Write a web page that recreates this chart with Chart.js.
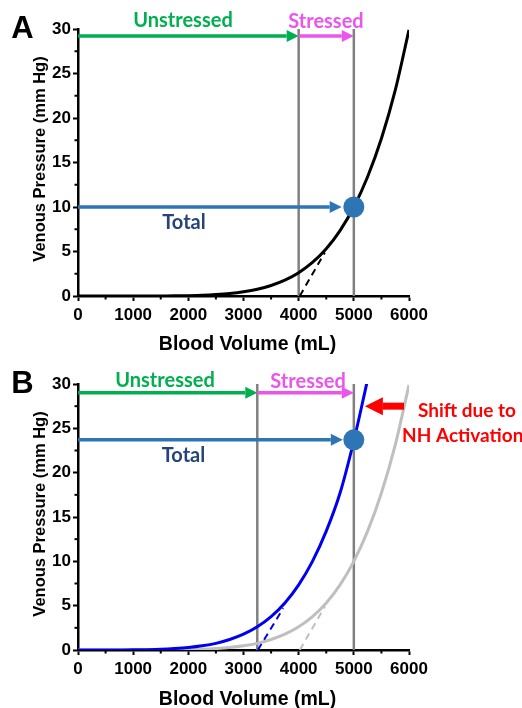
<!DOCTYPE html>
<html><head><meta charset="utf-8">
<script src="https://cdn.jsdelivr.net/npm/chart.js@4.4.1/dist/chart.umd.min.js"></script>
<style>
html,body{margin:0;padding:0;background:#fff;}
.panel{position:absolute;left:0;width:522px;}
</style></head><body>
<div class="panel" style="top:0;height:354px"><canvas id="chartA"></canvas></div>
<div class="panel" style="top:355px;height:353px"><canvas id="chartB"></canvas></div>
<script>
// ---------- data ----------
const volumes = [0,250,500,750,1000,1250,1500,1750,2000,2250,2500,2750,3000,3250,3500,3750,4000,4250,4500,4750,5000,5250,5500,5750,6000];
const baselinePressure = [0,0,0,0,0,0,0.01,0.02,0.04,0.08,0.16,0.28,0.47,0.75,1.18,1.78,2.62,3.77,5.31,7.35,10.0,13.4,17.7,23.1,29.9];
const nhVolumes = [0,250,500,750,1000,1250,1500,1750,2000,2250,2500,2750,3000,3250,3500,3750,4000,4250,4500,4750,5000,5250];
const nhPressure = [0,0,0,0.01,0.02,0.04,0.08,0.16,0.28,0.47,0.75,1.18,1.78,2.62,3.77,5.31,7.35,10.0,13.4,17.7,23.6,30.5];
const xTicks = [0,1000,2000,3000,4000,5000,6000];
const yTicks = [0,5,10,15,20,25,30];
// stressed-volume tangent (dashed) segments
const tangentAVolume = [4020,4475];
const tangentAPressure = [0,4.9];
const tangentNHVolume = [3260,3720];
const tangentNHPressure = [0,4.7];
// volume markers
const unstressedA = 4000, totalVolA = 5000, totalPressA = 10;
const unstressedB = 3250, totalVolB = 5000, totalPressB = 23.7;
const arrowPressA = 29.2, arrowPressB = 29.0;
const totalArrowEndA = 4780, totalArrowEndB = 4800;
const shiftArrowVolume = [5910,5200], shiftArrowPressure = 27.5;

const pts = (xs, ys) => xs.map((x, i) => ({x, y: ys[i]}));

const GREEN = '#00B050', MAGENTA = '#EC55EC', BLUEARROW = '#2E75B6', NAVY = '#264478', RED = '#FF0000', GREYLINE = '#808080';
const TICKFONT = {family: '"Liberation Sans", Arial, sans-serif', size: 17, weight: 'bold'};

function vline(x, order){
  return {data: pts([x, x], [0, 30]), borderColor: GREYLINE, borderWidth: 2.5, pointRadius: 0, order, clip: false};
}

function drawArrow(ctx, x1, y, x2, color, lw, hl, hw){
  const dir = Math.sign(x2 - x1);
  ctx.save();
  ctx.strokeStyle = color; ctx.fillStyle = color; ctx.lineWidth = lw; ctx.lineCap = 'butt';
  ctx.beginPath(); ctx.moveTo(x1, y); ctx.lineTo(x2 - dir * hl, y); ctx.stroke();
  ctx.beginPath(); ctx.moveTo(x2, y); ctx.lineTo(x2 - dir * hl, y - hw); ctx.lineTo(x2 - dir * hl, y + hw); ctx.closePath(); ctx.fill();
  ctx.restore();
}
function text(ctx, s, x, y, font, color, align='center', base='middle'){
  ctx.save(); ctx.font = font; ctx.fillStyle = color; ctx.textAlign = align; ctx.textBaseline = base; ctx.fillText(s, x, y); ctx.restore();
}

function annPlugin(p){
  return {
    id: 'ann',
    afterDatasetsDraw(chart){
      const ctx = chart.ctx, xs = chart.scales.x, ys = chart.scales.y;
      const X = v => xs.getPixelForValue(v), Y = v => ys.getPixelForValue(v);
      const lab = '700 20px Lato, "Open Sans", sans-serif';
      const labR = '700 19px Lato, "Open Sans", sans-serif';
      drawArrow(ctx, X(0), Y(p.arrowP), X(p.unstressed), GREEN, 3.5, 12, 6);
      drawArrow(ctx, X(p.unstressed), Y(p.arrowP), X(p.totalV), MAGENTA, 3.5, 12, 6);
      drawArrow(ctx, X(0), Y(p.totalP), X(p.totalEnd), BLUEARROW, 3.5, 12, 6);
      text(ctx, 'Unstressed', X(p.unLabel[0]), Y(p.unLabel[1]), lab, GREEN);
      text(ctx, 'Stressed', X(p.stLabel[0]), Y(p.stLabel[1]), lab, MAGENTA);
      text(ctx, 'Total', X(p.totLabel[0]), Y(p.totLabel[1]), lab, NAVY);
      if (p.shift){
        drawArrow(ctx, X(shiftArrowVolume[0]), Y(shiftArrowPressure), X(shiftArrowVolume[1]), RED, 7, 18, 9);
        text(ctx, 'Shift due to', X(7050), Y(27.0), labR, RED);
        text(ctx, 'NH Activation', X(6975), Y(24.2), labR, RED);
      }
    },
    afterDraw(chart){
      const ctx = chart.ctx, xs = chart.scales.x, ys = chart.scales.y;
      const a = chart.chartArea;
      ctx.save();
      ctx.strokeStyle = '#000'; ctx.lineWidth = 2;
      for (let v = 500; v < 6000; v += 1000){
        const x = xs.getPixelForValue(v);
        ctx.beginPath(); ctx.moveTo(x, a.bottom); ctx.lineTo(x, a.bottom + 3.5); ctx.stroke();
      }
      for (let v = 2.5; v < 30; v += 5){
        const y = ys.getPixelForValue(v);
        ctx.beginPath(); ctx.moveTo(a.left, y); ctx.lineTo(a.left - 3.5, y); ctx.stroke();
      }
      ctx.restore();
      const tf = 'bold 19.5px "Liberation Sans", Arial, sans-serif';
      text(ctx, 'Blood Volume (mL)', 247.5, 350, tf, '#000', 'center', 'alphabetic');
      ctx.save();
      ctx.translate(40, 159); ctx.rotate(-Math.PI / 2);
      text(ctx, 'Venous Pressure (mm Hg)', 0, 0, 'bold 16.5px "Liberation Sans", Arial, sans-serif', '#000');
      ctx.restore();
      text(ctx, p.letter, 22.5, 29.5, 'bold 31px "Liberation Sans", Arial, sans-serif', '#000');
    }
  };
}

function options(){
  return {
    responsive: true, maintainAspectRatio: false, animation: false, devicePixelRatio: 1,
    layout: {padding: {left: 0, right: 113, top: 29, bottom: 0}},
    plugins: {legend: {display: false}, tooltip: {enabled: false}},
    scales: {
      x: {type: 'linear', min: 0, max: 6000,
        afterBuildTicks: s => { s.ticks = xTicks.map(v => ({value: v})); },
        afterFit: s => { s.height = 58; },
        ticks: {font: TICKFONT, color: '#000', padding: 4, maxRotation: 0, autoSkip: false, callback: v => String(v)},
        grid: {drawOnChartArea: false, drawTicks: true, tickLength: 5, tickWidth: 2, color: '#000'},
        border: {display: true, width: 2.5, color: '#000'}},
      y: {type: 'linear', min: 0, max: 30,
        afterBuildTicks: s => { s.ticks = yTicks.map(v => ({value: v})); },
        afterFit: s => { s.width = 78; },
        ticks: {font: TICKFONT, color: '#000', padding: 2, callback: v => String(v)},
        grid: {drawOnChartArea: false, drawTicks: true, tickLength: 5, tickWidth: 2, color: '#000'},
        border: {display: true, width: 2.5, color: '#000'}}
    }
  };
}

new Chart(document.getElementById('chartA'), {
  type: 'line',
  data: {datasets: [
    {data: [{x: totalVolA, y: totalPressA}], pointRadius: 10.5, pointBackgroundColor: BLUEARROW, pointBorderWidth: 0, showLine: false, order: 0, clip: false},
    {data: pts(volumes, baselinePressure), borderColor: '#000', borderWidth: 3, pointRadius: 0, cubicInterpolationMode: 'monotone', order: 1},
    {data: pts(tangentAVolume, tangentAPressure), borderColor: '#000', borderWidth: 2, borderDash: [7, 5], pointRadius: 0, order: 2},
    vline(unstressedA, 5), vline(totalVolA, 5)
  ]},
  options: options(),
  plugins: [annPlugin({letter: 'A', arrowP: arrowPressA, unstressed: unstressedA, totalV: totalVolA, totalP: totalPressA, totalEnd: totalArrowEndA,
    unLabel: [1903, 30.9], stLabel: [4495, 30.8], totLabel: [1921, 8.26], shift: false})]
});

new Chart(document.getElementById('chartB'), {
  type: 'line',
  data: {datasets: [
    {data: [{x: totalVolB, y: totalPressB}], pointRadius: 10.5, pointBackgroundColor: BLUEARROW, pointBorderWidth: 0, showLine: false, order: 0, clip: false},
    {data: pts(nhVolumes, nhPressure), borderColor: '#0000F0', borderWidth: 3, pointRadius: 0, cubicInterpolationMode: 'monotone', order: 1},
    {data: pts(tangentNHVolume, tangentNHPressure), borderColor: '#0000F0', borderWidth: 2, borderDash: [7, 5], pointRadius: 0, order: 2},
    {data: pts(volumes, baselinePressure), borderColor: '#BFBFBF', borderWidth: 3, pointRadius: 0, cubicInterpolationMode: 'monotone', order: 3},
    {data: pts(tangentAVolume, tangentAPressure), borderColor: '#BFBFBF', borderWidth: 2, borderDash: [7, 5], pointRadius: 0, order: 4},
    vline(unstressedB, 5), vline(totalVolB, 5)
  ]},
  options: options(),
  plugins: [annPlugin({letter: 'B', arrowP: arrowPressB, unstressed: unstressedB, totalV: totalVolB, totalP: totalPressB, totalEnd: totalArrowEndB,
    unLabel: [1577, 30.4], stLabel: [4170, 30.3], totLabel: [1912, 21.9], shift: true})]
});
</script>
</body></html>
